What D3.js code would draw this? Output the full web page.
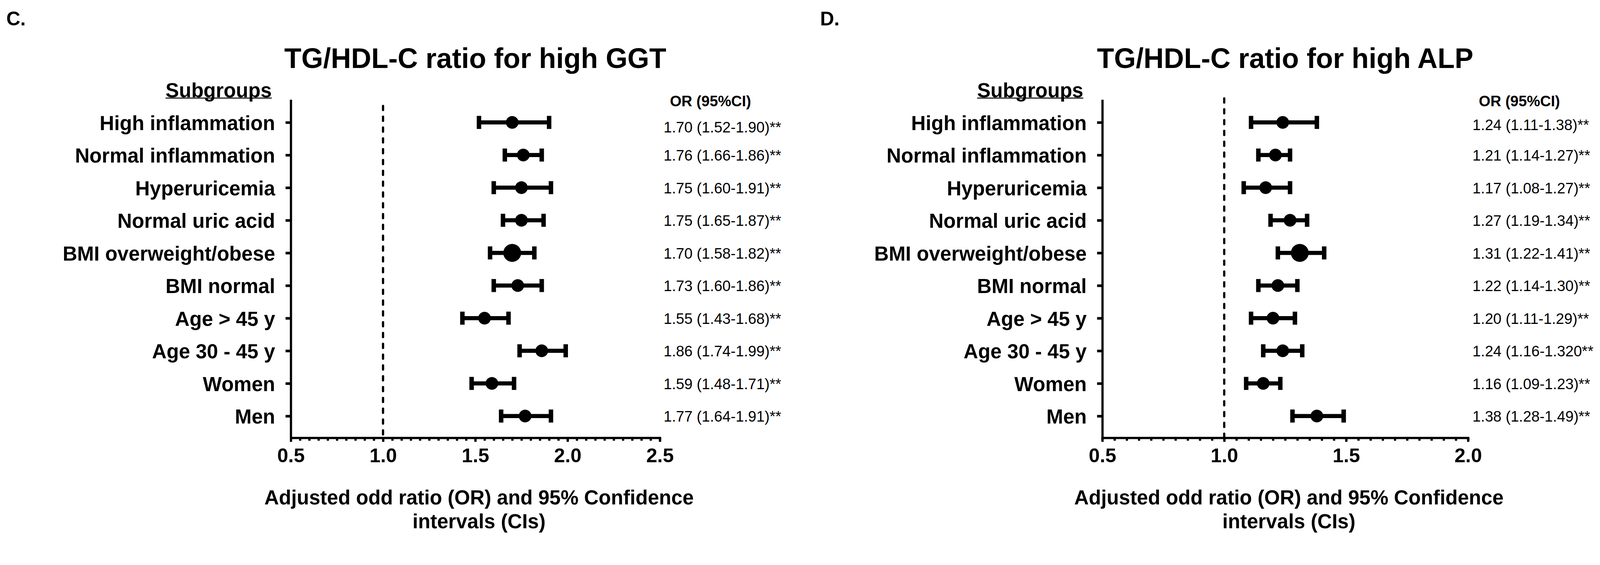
<!DOCTYPE html>
<html>
<head>
<meta charset="utf-8">
<script src="https://cdn.jsdelivr.net/npm/d3@7"></script>
<style>
  html, body { margin: 0; padding: 0; background: #fff; overflow: hidden; }
  .canvas { width: 100vw; line-height: 0; }
  svg { display: block; width: 100%; height: auto; }
  svg text { font-family: "Liberation Sans", Arial, sans-serif; fill: #000; }
</style>
</head>
<body>
<div class="canvas"></div>
<script>
// data
const subgroups = [
  "High inflammation",
  "Normal inflammation",
  "Hyperuricemia",
  "Normal uric acid",
  "BMI overweight/obese",
  "BMI normal",
  "Age > 45 y",
  "Age 30 - 45 y",
  "Women",
  "Men",
];

// panel C: high GGT
const ggtOR = [1.70, 1.76, 1.75, 1.75, 1.70, 1.73, 1.55, 1.86, 1.59, 1.77];
const ggtLow = [1.52, 1.66, 1.60, 1.65, 1.58, 1.60, 1.43, 1.74, 1.48, 1.64];
const ggtHigh = [1.90, 1.86, 1.91, 1.87, 1.82, 1.86, 1.68, 1.99, 1.71, 1.91];
const ggtLabels = [
  "1.70 (1.52-1.90)**",
  "1.76 (1.66-1.86)**",
  "1.75 (1.60-1.91)**",
  "1.75 (1.65-1.87)**",
  "1.70 (1.58-1.82)**",
  "1.73 (1.60-1.86)**",
  "1.55 (1.43-1.68)**",
  "1.86 (1.74-1.99)**",
  "1.59 (1.48-1.71)**",
  "1.77 (1.64-1.91)**",
];
const ggtTicks = [0.5, 1.0, 1.5, 2.0, 2.5];

// panel D: high ALP
const alpOR = [1.24, 1.21, 1.17, 1.27, 1.31, 1.22, 1.20, 1.24, 1.16, 1.38];
const alpLow = [1.11, 1.14, 1.08, 1.19, 1.22, 1.14, 1.11, 1.16, 1.09, 1.28];
const alpHigh = [1.38, 1.27, 1.27, 1.34, 1.41, 1.30, 1.29, 1.32, 1.23, 1.49];
const alpLabels = [
  "1.24 (1.11-1.38)**",
  "1.21 (1.14-1.27)**",
  "1.17 (1.08-1.27)**",
  "1.27 (1.19-1.34)**",
  "1.31 (1.22-1.41)**",
  "1.22 (1.14-1.30)**",
  "1.20 (1.11-1.29)**",
  "1.24 (1.16-1.320**",
  "1.16 (1.09-1.23)**",
  "1.38 (1.28-1.49)**",
];
const alpTicks = [0.5, 1.0, 1.5, 2.0];

// layout
const W = 4292;
const H = 1446;
const axisTop = 270;
const axisBottom = 1174;
const bigDot = "BMI overweight/obese";

const svg = d3
  .select(".canvas")
  .append("svg")
  .attr("viewBox", `0 0 ${W} ${H}`)
  .attr("preserveAspectRatio", "xMinYMin meet");

svg.append("rect").attr("width", W).attr("height", H).attr("fill", "#fff");

// shared row scale
const y = d3
  .scalePoint()
  .domain(subgroups)
  .range([axisTop, axisBottom])
  .padding(0.666);

const drawPanel = (p) => {
  const x = d3
    .scaleLinear()
    .domain([p.ticks[0], p.ticks[p.ticks.length - 1]])
    .range([p.left, p.right]);

  const g = svg.append("g");
  const mid = (p.left + p.right) / 2;

  // panel letter
  g.append("text")
    .attr("x", p.letterX)
    .attr("y", 68)
    .attr("font-size", 52)
    .attr("font-weight", "bold")
    .text(p.letter);

  // title
  g.append("text")
    .attr("x", mid)
    .attr("y", 182)
    .attr("text-anchor", "middle")
    .attr("font-size", 75)
    .attr("font-weight", "bold")
    .text(p.title);

  // subgroups header with underline
  const sub = g
    .append("text")
    .attr("x", p.left - 51)
    .attr("y", 261)
    .attr("text-anchor", "end")
    .attr("font-size", 54)
    .attr("font-weight", "bold")
    .text("Subgroups");
  const subLen = sub.node().getComputedTextLength();
  g.append("line")
    .attr("x1", p.left - 51 - subLen)
    .attr("x2", p.left - 51)
    .attr("y1", 263)
    .attr("y2", 263)
    .attr("stroke", "#000")
    .attr("stroke-width", 2.5);

  // dashed reference line at OR = 1
  g.append("line")
    .attr("x1", x(1))
    .attr("x2", x(1))
    .attr("y1", p.dashTop)
    .attr("y2", axisBottom + 8)
    .attr("stroke", "#000")
    .attr("stroke-width", 6)
    .attr("stroke-dasharray", "11,18")
    .attr("stroke-linecap", "round");

  // minor x ticks every 0.05
  const step = 0.05;
  const n = Math.round((p.ticks[p.ticks.length - 1] - p.ticks[0]) / step);
  const minor = d3.range(n + 1).map((i) => p.ticks[0] + i * step);

  const minorAxis = g
    .append("g")
    .attr("transform", `translate(0,${axisBottom})`)
    .call(d3.axisBottom(x).tickValues(minor).tickSize(8).tickFormat(""));
  minorAxis.select(".domain").remove();
  minorAxis.selectAll("line").attr("stroke-width", 6);

  // major x axis
  const xAxisGroup = g
    .append("g")
    .attr("transform", `translate(0,${axisBottom})`)
    .call(
      d3
        .axisBottom(x)
        .tickValues(p.ticks)
        .tickSize(11)
        .tickSizeOuter(0)
        .tickFormat(d3.format(".1f"))
    );
  xAxisGroup
    .select(".domain")
    .attr("stroke-width", 6)
    .attr("stroke-linecap", "square");
  xAxisGroup.selectAll("line").attr("stroke-width", 6);
  xAxisGroup
    .selectAll("text")
    .attr("y", 66)
    .attr("dy", null)
    .attr("font-size", 53)
    .attr("font-weight", "bold")
    .attr("font-family", null);

  // y axis with subgroup labels
  const yAxisGroup = g
    .append("g")
    .attr("transform", `translate(${p.left},0)`)
    .call(d3.axisLeft(y).tickSize(14).tickSizeOuter(0).tickPadding(28));
  yAxisGroup
    .select(".domain")
    .attr("stroke-width", 6)
    .attr("stroke-linecap", "square");
  yAxisGroup.selectAll("line").attr("stroke-width", 7);
  yAxisGroup
    .selectAll("text")
    .attr("dy", "0.37em")
    .attr("font-size", 54)
    .attr("font-weight", "bold")
    .attr("font-family", null);

  // error bars and points
  const rows = subgroups.map((s, i) => ({
    name: s,
    or: p.or[i],
    low: p.low[i],
    high: p.high[i],
    label: p.labels[i],
  }));

  const bars = g.append("g");

  bars
    .selectAll("line.whisker")
    .data(rows)
    .enter()
    .append("line")
    .attr("class", "whisker")
    .attr("x1", (d) => x(d.low))
    .attr("x2", (d) => x(d.high))
    .attr("y1", (d) => y(d.name))
    .attr("y2", (d) => y(d.name))
    .attr("stroke", "#000")
    .attr("stroke-width", 11);

  ["low", "high"].forEach((k) => {
    bars
      .selectAll(`line.cap-${k}`)
      .data(rows)
      .enter()
      .append("line")
      .attr("class", `cap-${k}`)
      .attr("x1", (d) => x(d[k]))
      .attr("x2", (d) => x(d[k]))
      .attr("y1", (d) => y(d.name) - 17.5)
      .attr("y2", (d) => y(d.name) + 17.5)
      .attr("stroke", "#000")
      .attr("stroke-width", 12);
  });

  bars
    .selectAll("circle")
    .data(rows)
    .enter()
    .append("circle")
    .attr("cx", (d) => x(d.or))
    .attr("cy", (d) => y(d.name))
    .attr("r", (d) => (d.name === bigDot ? 24 : 17))
    .attr("fill", "#000");

  // OR (95%CI) column
  g.append("text")
    .attr("x", p.orX + 17)
    .attr("y", 285)
    .attr("font-size", 40)
    .attr("font-weight", "bold")
    .text("OR (95%CI)");

  // first text row sits a little lower in the original
  g.append("g")
    .selectAll("text")
    .data(rows)
    .enter()
    .append("text")
    .attr("x", p.orX)
    .attr("y", (d, i) => y(d.name) + 15 + (i === 0 ? p.firstShift : 0))
    .attr("font-size", 40)
    .text((d) => d.label);

  // x axis title
  const xt = g
    .append("text")
    .attr("text-anchor", "middle")
    .attr("font-size", 54)
    .attr("font-weight", "bold");
  xt.append("tspan")
    .attr("x", mid + 10)
    .attr("y", 1353)
    .text("Adjusted odd ratio (OR) and 95% Confidence");
  xt.append("tspan")
    .attr("x", mid + 10)
    .attr("y", 1417)
    .text("intervals (CIs)");
};

drawPanel({
  letter: "C.",
  letterX: 17,
  title: "TG/HDL-C ratio for high GGT",
  left: 780,
  right: 1770,
  dashTop: 284,
  orX: 1780,
  firstShift: 12,
  ticks: ggtTicks,
  or: ggtOR,
  low: ggtLow,
  high: ggtHigh,
  labels: ggtLabels,
});

drawPanel({
  letter: "D.",
  letterX: 2200,
  title: "TG/HDL-C ratio for high ALP",
  left: 2957,
  right: 3938,
  dashTop: 264,
  orX: 3950,
  firstShift: 6,
  ticks: alpTicks,
  or: alpOR,
  low: alpLow,
  high: alpHigh,
  labels: alpLabels,
});
</script>
</body>
</html>
